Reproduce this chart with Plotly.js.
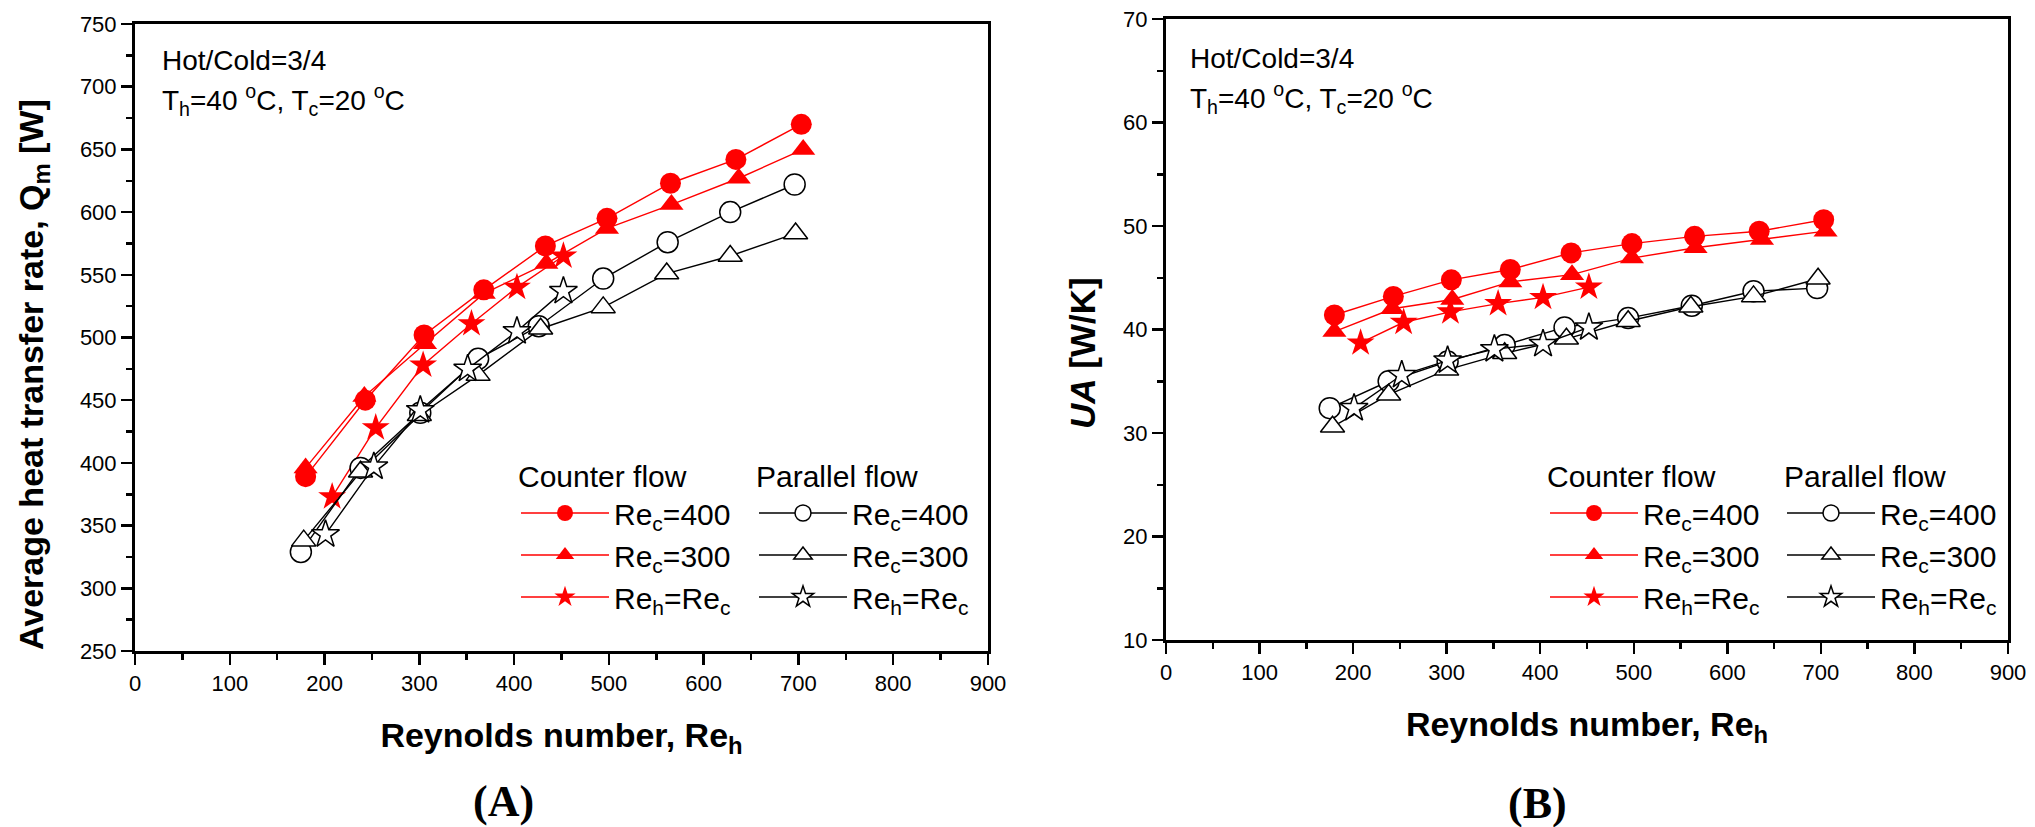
<!DOCTYPE html>
<html>
<head>
<meta charset="utf-8">
<script src="https://cdn.plot.ly/plotly-3.0.1.min.js"></script>
<style>
  html, body { margin: 0; padding: 0; background: #fff; }
  #chart { width: 2035px; height: 827px; }
</style>
</head>
<body>
<div id="chart"></div>
<script>
// Reynolds numbers (hot side) for each series
const reCounter400 = [180, 243, 305, 368, 433, 498, 565, 634, 703];
const reCounter300 = [180, 242, 306, 368, 434, 498, 566, 637, 705];
const reCounterEq  = [208, 254, 304, 355, 403, 452];
const reParallel400 = [175, 238, 301, 362, 426, 494, 562, 628, 696];
const reParallel300 = [178, 238, 300, 362, 428, 494, 561, 628, 697];
const reParallelEq  = [201, 252, 301, 351, 403, 452];

// (A) average heat transfer rate Q_m [W]
const qCounter400 = [389, 450, 502, 538, 573, 595, 623, 642, 670];
const qCounter300 = [396, 453, 495, 535, 559, 587, 606, 627, 650];
const qCounterEq  = [373, 428, 478, 511, 540, 565];
const qParallel400 = [329, 396, 440, 483, 509, 547, 576, 600, 622];
const qParallel300 = [338, 393, 438, 470, 507, 524, 551, 565, 583];
const qParallelEq  = [343, 397, 442, 475, 505, 537];

// (B) UA [W/K]
const uaCounter400 = [41.4, 43.2, 44.8, 45.8, 47.4, 48.3, 49.0, 49.5, 50.6];
const uaCounter300 = [39.8, 42.0, 42.9, 44.6, 45.3, 46.9, 47.9, 48.7, 49.5];
const uaCounterEq  = [38.7, 40.7, 41.7, 42.5, 43.1, 44.1];
const uaParallel400 = [32.4, 35.0, 36.9, 38.5, 40.2, 41.1, 42.3, 43.7, 44.0];
const uaParallel300 = [30.6, 33.7, 36.1, 37.7, 39.1, 40.8, 42.2, 43.2, 44.9];
const uaParallelEq  = [32.4, 35.6, 37.0, 38.1, 38.6, 40.2];

const seriesNames = ['Re<sub>c</sub>=400', 'Re<sub>c</sub>=300', 'Re<sub>h</sub>=Re<sub>c</sub>'];

const W = 2035, H = 827;
const FONT = 'Arial, "Liberation Sans", sans-serif';
const SERIF = '"Times New Roman", "Liberation Serif", serif';
const px = v => v / W;
const py = v => 1 - v / H;

function series(x, y, name, red, symbol, axes, legend) {
    return {
        x: x, y: y, name: name,
        type: 'scatter', mode: 'lines+markers',
        xaxis: axes[0], yaxis: axes[1],
        legend: legend,
        showlegend: true,
        line: { color: red ? '#ff0000' : '#000000', width: 1.4 },
        marker: {
            symbol: symbol,
            size: symbol === 'star' ? 21 : 21,
            color: red ? '#ff0000' : '#ffffff',
            line: { color: red ? '#ff0000' : '#000000', width: red ? 0 : 1.5 }
        }
    };
}

const traces = [];
// panel A
traces.push(series(reCounter400, qCounter400, seriesNames[0], true, 'circle', ['x', 'y'], 'legend'));
traces.push(series(reCounter300, qCounter300, seriesNames[1], true, 'triangle-up', ['x', 'y'], 'legend'));
traces.push(series(reCounterEq, qCounterEq, seriesNames[2], true, 'star', ['x', 'y'], 'legend'));
traces.push(series(reParallel400, qParallel400, seriesNames[0], false, 'circle', ['x', 'y'], 'legend2'));
traces.push(series(reParallel300, qParallel300, seriesNames[1], false, 'triangle-up', ['x', 'y'], 'legend2'));
traces.push(series(reParallelEq, qParallelEq, seriesNames[2], false, 'star', ['x', 'y'], 'legend2'));
// panel B
traces.push(series(reCounter400, uaCounter400, seriesNames[0], true, 'circle', ['x2', 'y2'], 'legend3'));
traces.push(series(reCounter300, uaCounter300, seriesNames[1], true, 'triangle-up', ['x2', 'y2'], 'legend3'));
traces.push(series(reCounterEq, uaCounterEq, seriesNames[2], true, 'star', ['x2', 'y2'], 'legend3'));
traces.push(series(reParallel400, uaParallel400, seriesNames[0], false, 'circle', ['x2', 'y2'], 'legend4'));
traces.push(series(reParallel300, uaParallel300, seriesNames[1], false, 'triangle-up', ['x2', 'y2'], 'legend4'));
traces.push(series(reParallelEq, uaParallelEq, seriesNames[2], false, 'star', ['x2', 'y2'], 'legend4'));

function axisStyle(extra) {
    return Object.assign({
        showgrid: false, zeroline: false,
        showline: true, linecolor: '#000', linewidth: 3, mirror: true,
        ticks: 'outside', ticklen: 11, tickwidth: 2.5, tickcolor: '#000',
        tickfont: { family: FONT, size: 22, color: '#000' },
        automargin: false, fixedrange: true
    }, extra);
}

function minorTicks(step) {
    return { dtick: step, ticks: 'outside', ticklen: 6, tickwidth: 2.5, tickcolor: '#000' };
}

function legendBox(x, y, title) {
    return {
        x: px(x), y: py(y), xanchor: 'left', yanchor: 'top',
        bgcolor: 'rgba(0,0,0,0)', borderwidth: 0,
        itemwidth: 88, tracegroupgap: 0,
        title: { text: title, font: { family: FONT, size: 30, color: '#000' } },
        font: { family: FONT, size: 30, color: '#000' }
    };
}

const infoLine1 = 'Hot/Cold=3/4';
const infoLine2 = 'T<sub>h</sub>=40 <sup>o</sup>C, T<sub>c</sub>=20 <sup>o</sup>C';
const xTitle = '<b>Reynolds number, Re<sub>h</sub></b>';
const yTitleA = '<b>Average heat transfer rate, Q<sub>m</sub> [W]</b>';
const yTitleB = '<b><i>UA</i> [W/K]</b>';

function note(text, x, y, size, extra) {
    return Object.assign({
        xref: 'paper', yref: 'paper', x: px(x), y: py(y),
        xanchor: 'left', yanchor: 'middle', showarrow: false,
        text: text,
        font: { family: FONT, size: size, color: '#000' }
    }, extra || {});
}

const layout = {
    width: W, height: H,
    margin: { l: 0, r: 0, t: 0, b: 0 },
    paper_bgcolor: '#fff', plot_bgcolor: '#fff',
    font: { family: FONT, color: '#000' },
    xaxis: axisStyle({
        domain: [px(135), px(988)], anchor: 'y',
        range: [0, 900], tick0: 0, dtick: 100, minor: minorTicks(50),
        title: { text: xTitle, font: { family: FONT, size: 34, color: '#000' }, standoff: 28 }
    }),
    yaxis: axisStyle({
        domain: [py(651), py(24)], anchor: 'x',
        range: [250, 750], tick0: 250, dtick: 50, minor: minorTicks(25)
    }),
    xaxis2: axisStyle({
        domain: [px(1166), px(2008)], anchor: 'y2',
        range: [0, 900], tick0: 0, dtick: 100, minor: minorTicks(50),
        title: { text: xTitle, font: { family: FONT, size: 34, color: '#000' }, standoff: 28 }
    }),
    yaxis2: axisStyle({
        domain: [py(640), py(19)], anchor: 'x2',
        range: [10, 70], tick0: 10, dtick: 10, minor: minorTicks(5)
    }),
    showlegend: true,
    legend: legendBox(516, 448, 'Counter flow'),
    legend2: legendBox(754, 448, 'Parallel flow'),
    legend3: legendBox(1545, 448, 'Counter flow'),
    legend4: legendBox(1782, 448, 'Parallel flow'),
    annotations: [
        // y axis titles
        note(yTitleA, 33, 375, 34, { xanchor: 'center', textangle: -90 }),
        note(yTitleB, 1082, 353, 35, { xanchor: 'center', textangle: -90 }),
        // condition notes
        note(infoLine1, 160, 60, 28),
        note(infoLine2, 160, 100, 28),
        note(infoLine1, 1188, 58, 28),
        note(infoLine2, 1188, 98, 28),
        // panel labels
        note('<b>(A)</b>', 503, 801, 44, { xanchor: 'center', font: { family: SERIF, size: 44, color: '#000' } }),
        note('<b>(B)</b>', 1537, 803, 44, { xanchor: 'center', font: { family: SERIF, size: 44, color: '#000' } })
    ]
};

Plotly.newPlot('chart', traces, layout, { displayModeBar: false, responsive: false, staticPlot: true });
</script>
</body>
</html>
